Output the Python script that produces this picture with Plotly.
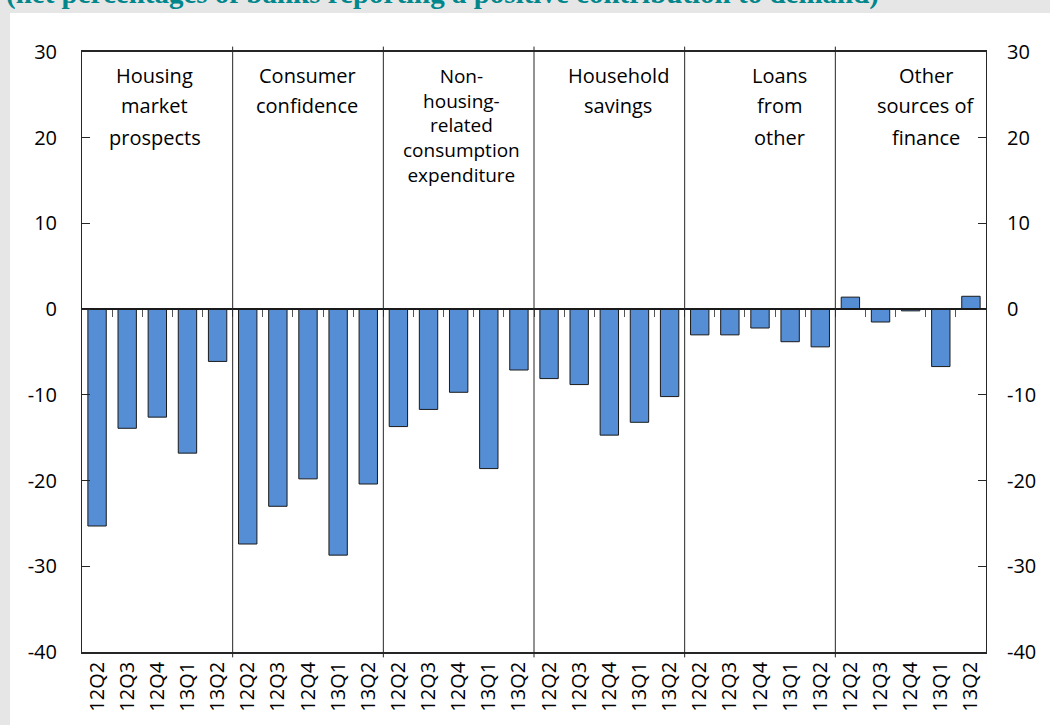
import plotly.graph_objects as go

# --- data ---
quarters = ["12Q2", "12Q3", "12Q4", "13Q1", "13Q2"]
groups = [
    ["Housing", "market", "prospects"],
    ["Consumer", "confidence"],
    ["Non-<br>housing-<br>related<br>consumption<br>expenditure"],
    ["Household", "savings"],
    ["Loans", "from", "other"],
    ["Other", "sources of", "finance"],
]
values = [
    -25.3, -13.9, -12.6, -16.8, -6.1,
    -27.4, -23.0, -19.8, -28.7, -20.4,
    -13.7, -11.7, -9.7, -18.6, -7.1,
    -8.1, -8.8, -14.7, -13.2, -10.2,
    -3.0, -3.0, -2.2, -3.8, -4.4,
    1.4, -1.5, -0.2, -6.7, 1.5,
]
tick_labels = quarters * len(groups)
y_ticks = [-40, -30, -20, -10, 0, 10, 20, 30]
y_tick_text = [str(v) for v in y_ticks]
title_text = "(net percentages of banks reporting a positive contribution to demand)"

# --- style / layout helpers ---
BAR_COLOR = "#558ed5"
TEAL = "#00868b"
FONT = "Open Sans, sans-serif"
Y_RANGE = [-40, 30]
X_RANGE = [-0.5, len(values) - 0.5]
PLOT_H = 600  # px of the plotting area
label_x = [1.92, 6.97, 12.1, 17.3, 22.65, 27.5]
# pixel centre of each label line (panel 3 is one 5-line block)
label_rows = [
    [75, 106, 137],
    [75, 106],
    [125],
    [75, 106],
    [75, 106, 137],
    [75, 106, 137],
]

x = list(range(len(values)))

fig = go.Figure()
fig.add_trace(
    go.Bar(
        x=x, y=values,
        marker={"color": BAR_COLOR, "line": {"color": "#1a1a1a", "width": 1}},
        width=0.61,
        showlegend=False,
        hovertemplate="%{y}<extra></extra>",
    )
)
# invisible helper trace so the overlay axes (zero line, right axis) are drawn
fig.add_trace(
    go.Scatter(
        x=[0], y=[0], xaxis="x2", yaxis="y2", mode="markers",
        marker={"opacity": 0}, showlegend=False, hoverinfo="skip",
    )
)

shapes = [
    # white panel over grey page
    dict(type="rect", xref="paper", yref="paper",
         x0=(10 - 82) / 904, x1=1.1, y0=-0.3, y1=(652 - 13) / PLOT_H,
         fillcolor="white", line={"width": 0}, layer="below"),
]
# group separators
n = len(quarters)
for g in range(1, len(groups)):
    shapes.append(dict(
        type="line", xref="x", yref="paper",
        x0=g * n - 0.5, x1=g * n - 0.5, y0=-0.009, y1=1.009,
        line={"color": "#262626", "width": 1},
    ))

annotations = []
for g, lines in enumerate(groups):
    for line, py in zip(lines, label_rows[g]):
        annotations.append(dict(
            x=label_x[g], xref="x", y=(652 - py) / PLOT_H, yref="paper",
            text=line, showarrow=False, xanchor="center", yanchor="middle",
            font={"family": FONT, "size": 19 if "<br>" in line else 20, "color": "#000"},
        ))
annotations.append(dict(
    x=(4 - 82) / 904, xref="paper", y=(652 - 12) / PLOT_H, yref="paper",
    text=f"<b>{title_text}</b>", showarrow=False, xanchor="left", yanchor="bottom",
    font={"family": "Liberation Serif, serif", "size": 29, "color": TEAL},
))

fig.update_layout(
    width=1050, height=725,
    margin={"l": 82, "r": 64, "t": 52, "b": 73, "autoexpand": False},
    paper_bgcolor="#e6e6e6",
    plot_bgcolor="white",
    font={"family": FONT, "size": 20, "color": "#000"},
    shapes=shapes,
    annotations=annotations,
    xaxis=dict(
        range=X_RANGE, tickvals=x, ticktext=tick_labels, tickangle=-90,
        ticks="", showgrid=False, zeroline=False,
        showline=True, linecolor="#262626", linewidth=1.5, mirror=True,
        tickfont={"size": 20}, automargin=False,
    ),
    yaxis=dict(
        range=Y_RANGE, tickvals=y_ticks, ticktext=y_tick_text,
        ticks="inside", ticklen=8,
        tickcolor="#262626", showgrid=False, zeroline=False,
        showline=True, linecolor="#262626", linewidth=1, mirror=True,
        ticklabelstandoff=20, automargin=False,
    ),
    xaxis2=dict(
        overlaying="x", anchor="free", position=(0 - Y_RANGE[0]) / (Y_RANGE[1] - Y_RANGE[0]),
        side="bottom", range=X_RANGE,
        tickvals=[i + 0.5 for i in x[:-1]], ticks="outside", ticklen=7,
        tickcolor="#555", showticklabels=False, showgrid=False, zeroline=False,
        showline=True, linecolor="#1a1a1a", linewidth=1.5,
    ),
    yaxis2=dict(
        overlaying="y", anchor="x", side="right", range=Y_RANGE,
        tickvals=y_ticks, ticktext=y_tick_text,
        ticks="inside", ticklen=8, tickcolor="#262626", showgrid=False,
        zeroline=False, showline=False, ticklabelstandoff=20, automargin=False,
    ),
)

fig.write_html(
    "out.html",
    config={"displayModeBar": False},
    post_script="document.body.style.margin='0';",
)
